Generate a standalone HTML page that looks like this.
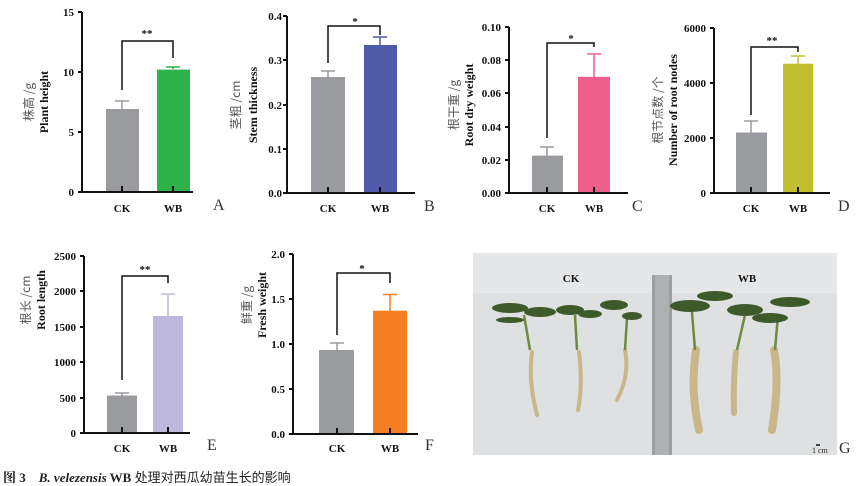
<!DOCTYPE html>
<html><head><meta charset="utf-8"><style>
body{margin:0;background:#fff}
svg{display:block}
text{font-family:"Liberation Serif","Noto Serif CJK SC",serif}
.t{font-size:11px;font-weight:bold;fill:#111}
.ax{stroke:#111;stroke-width:2;fill:none}
.br{stroke:#111;stroke-width:1.5;fill:none}
.yl{font-size:12px;font-weight:bold;fill:#111}
.cn{font-size:12px;fill:#555;font-family:"Noto Sans CJK SC",sans-serif}
.pl{font-size:16px;fill:#333}
</style></head><body>
<svg width="864" height="486" viewBox="0 0 864 486">
<!-- Panel A -->
<g>
<rect x="106" y="109" width="33" height="83" fill="#9a9b9f"/>
<rect x="157" y="69.6" width="33" height="122.4" fill="#2db34a"/>
<path d="M122 109V101M115 101H129" stroke="#9a9b9f" stroke-width="1.5"/>
<path d="M173 69V67M166 67H180" stroke="#2db34a" stroke-width="1.5"/>
<path class="br" d="M122 90V41H173V58"/>
<text x="147" y="37" class="t" text-anchor="middle" font-size="12">**</text>
<path class="ax" d="M82 12V192H193M78 12H82M78 72H82M78 132H82M78 192H82M122 192V186M173 192V186"/>
<g class="t" text-anchor="end"><text x="74" y="16">15</text><text x="74" y="76">10</text><text x="74" y="136">5</text><text x="74" y="196">0</text></g>
<text x="122" y="212" class="t" text-anchor="middle">CK</text><text x="173" y="212" class="t" text-anchor="middle">WB</text>
<text x="213" y="210" class="pl">A</text>
<g transform="translate(48,102) rotate(-90)"><text class="yl" text-anchor="middle" y="0">Plant  height</text><text class="cn" text-anchor="middle" y="-15">株高 /g</text></g>
</g>
<!-- Panel B -->
<g>
<rect x="311" y="77" width="34" height="116" fill="#9a9b9f"/>
<rect x="364" y="45" width="33" height="148" fill="#4f5aa8"/>
<path d="M328 77V71M321 71H335" stroke="#9a9b9f" stroke-width="1.5"/>
<path d="M380 45V37M373 37H387" stroke="#4f5aa8" stroke-width="1.5"/>
<path class="br" d="M328 63V26H380V35"/>
<text x="355" y="25" class="t" text-anchor="middle" font-size="12">*</text>
<path class="ax" d="M287 16V193H415M283 16H287M283 60H287M283 105H287M283 149H287M283 193H287M328 193V187M380 193V187"/>
<g class="t" text-anchor="end"><text x="282" y="20">0.4</text><text x="282" y="64">0.3</text><text x="282" y="109">0.2</text><text x="282" y="153">0.1</text><text x="282" y="197">0.0</text></g>
<text x="328" y="212" class="t" text-anchor="middle">CK</text><text x="380" y="212" class="t" text-anchor="middle">WB</text>
<text x="424" y="211" class="pl">B</text>
<g transform="translate(257,105) rotate(-90)"><text class="yl" text-anchor="middle" y="0">Stem thickness</text><text class="cn" text-anchor="middle" y="-17">茎粗 /cm</text></g>
</g>
<!-- Panel C -->
<g>
<rect x="532" y="155.6" width="31" height="37.4" fill="#9a9b9f"/>
<rect x="578" y="76.8" width="32" height="116.2" fill="#ee5f8e"/>
<path d="M547 156V147M540 147H554" stroke="#9a9b9f" stroke-width="1.5"/>
<path d="M594 77V54M587 54H601" stroke="#ee5f8e" stroke-width="1.5"/>
<path class="br" d="M547 138V43H594V47"/>
<text x="571" y="42" class="t" text-anchor="middle" font-size="12">*</text>
<path class="ax" d="M509 27V193H628M505 27H509M505 60H509M505 93H509M505 127H509M505 160H509M505 193H509M547 193V187M594 193V187"/>
<g class="t" text-anchor="end"><text x="501" y="31">0.10</text><text x="501" y="64">0.08</text><text x="501" y="97">0.06</text><text x="501" y="131">0.04</text><text x="501" y="164">0.02</text><text x="501" y="197">0.00</text></g>
<text x="547" y="212" class="t" text-anchor="middle">CK</text><text x="594" y="212" class="t" text-anchor="middle">WB</text>
<text x="632" y="211" class="pl">C</text>
<g transform="translate(473,105) rotate(-90)"><text class="yl" text-anchor="middle" y="0">Root dry weight</text><text class="cn" text-anchor="middle" y="-15">根干重 /g</text></g>
</g>
<!-- Panel D -->
<g>
<rect x="736" y="132.5" width="31" height="60.5" fill="#9a9b9f"/>
<rect x="783" y="63.7" width="30" height="129.3" fill="#c2bf2e"/>
<path d="M751 133V121M744 121H758" stroke="#9a9b9f" stroke-width="1.5"/>
<path d="M798 64V56M791 56H805" stroke="#c2bf2e" stroke-width="1.5"/>
<path class="br" d="M751 115V47H798V52"/>
<text x="772" y="44" class="t" text-anchor="middle" font-size="12">**</text>
<path class="ax" d="M714 28V193H830M710 28H714M710 83H714M710 138H714M710 193H714M751 193V187M798 193V187"/>
<g class="t" text-anchor="end"><text x="706" y="32">6000</text><text x="706" y="87">4000</text><text x="706" y="142">2000</text><text x="706" y="197">0</text></g>
<text x="751" y="212" class="t" text-anchor="middle">CK</text><text x="798" y="212" class="t" text-anchor="middle">WB</text>
<text x="838" y="211" class="pl">D</text>
<g transform="translate(677,110) rotate(-90)"><text class="yl" text-anchor="middle" y="0">Number of root nodes</text><text class="cn" text-anchor="middle" y="-15">根节点数 /个</text></g>
</g>
<!-- Panel E -->
<g>
<rect x="107" y="395.5" width="30" height="37.5" fill="#9a9b9f"/>
<rect x="153" y="316" width="30" height="117" fill="#bdb8dc"/>
<path d="M122 396V393M115 393H129" stroke="#9a9b9f" stroke-width="1.5"/>
<path d="M168 316V294M161 294H175" stroke="#bdb8dc" stroke-width="1.5"/>
<path class="br" d="M122 380V276H168V283"/>
<text x="145" y="273" class="t" text-anchor="middle" font-size="12">**</text>
<path class="ax" d="M84 256V433H190M80 256H84M80 291H84M80 327H84M80 362H84M80 398H84M80 433H84M122 433V427M168 433V427"/>
<g class="t" text-anchor="end"><text x="76" y="260">2500</text><text x="76" y="295">2000</text><text x="76" y="331">1500</text><text x="76" y="366">1000</text><text x="76" y="402">500</text><text x="76" y="437">0</text></g>
<text x="122" y="452" class="t" text-anchor="middle">CK</text><text x="168" y="452" class="t" text-anchor="middle">WB</text>
<text x="207" y="450" class="pl">E</text>
<g transform="translate(45,300) rotate(-90)"><text class="yl" text-anchor="middle" y="0">Root length</text><text class="cn" text-anchor="middle" y="-15">根长 /cm</text></g>
</g>
<!-- Panel F -->
<g>
<rect x="319" y="350" width="35" height="84" fill="#9a9b9f"/>
<rect x="373" y="310.7" width="34" height="123.3" fill="#f47f22"/>
<path d="M337 350V343M330 343H344" stroke="#9a9b9f" stroke-width="1.5"/>
<path d="M390 311V294.5M383 294.5H397" stroke="#f47f22" stroke-width="1.5"/>
<path class="br" d="M337 335V273H390V283"/>
<text x="362" y="272" class="t" text-anchor="middle" font-size="12">*</text>
<path class="ax" d="M293 254V434H418M289 254H293M289 299H293M289 344H293M289 389H293M289 434H293M337 434V428M390 434V428"/>
<g class="t" text-anchor="end"><text x="285" y="258">2.0</text><text x="285" y="303">1.5</text><text x="285" y="348">1.0</text><text x="285" y="393">0.5</text><text x="285" y="438">0.0</text></g>
<text x="337" y="452" class="t" text-anchor="middle">CK</text><text x="390" y="452" class="t" text-anchor="middle">WB</text>
<text x="425" y="450" class="pl">F</text>
<g transform="translate(266,305) rotate(-90)"><text class="yl" text-anchor="middle" y="0">Fresh weight</text><text class="cn" text-anchor="middle" y="-15">鲜重 /g</text></g>
</g>
<!-- Photo G -->
<g>
<rect x="473" y="253" width="364" height="202" fill="#dfe0e2"/>
<rect x="473" y="253" width="364" height="40" fill="#e6e7e8"/>
<rect x="652" y="275" width="20" height="180" fill="#9c9ea0"/>
<rect x="655" y="275" width="14" height="180" fill="#aeb0b2"/>
<text x="571" y="282" class="t" text-anchor="middle" font-size="12">CK</text>
<text x="747" y="282" class="t" text-anchor="middle" font-size="12">WB</text>
<g stroke="#c9b78a" stroke-width="4" fill="none" stroke-linecap="round">
<path d="M532 352Q528 380 537 415"/><path d="M579 352Q583 385 578 410"/><path d="M625 350Q630 375 617 400"/>
<path d="M696 350Q690 390 699 430" stroke-width="8"/><path d="M736 352Q733 380 734 413" stroke-width="6"/><path d="M774 350Q780 380 772 430" stroke-width="8"/>
</g>
<g stroke="#6e8a3a" stroke-width="2.5" fill="none"><path d="M530 350L524 315"/><path d="M577 350L575 315"/><path d="M625 350L627 318"/><path d="M695 350L692 312"/><path d="M737 350L745 315"/><path d="M775 350L778 315"/></g>
<g fill="#3f5a2a">
<ellipse cx="510" cy="308" rx="18" ry="5"/><ellipse cx="540" cy="312" rx="16" ry="5"/><ellipse cx="510" cy="320" rx="14" ry="3"/>
<ellipse cx="570" cy="310" rx="14" ry="5"/><ellipse cx="590" cy="314" rx="12" ry="4"/>
<ellipse cx="614" cy="305" rx="14" ry="5"/><ellipse cx="632" cy="316" rx="10" ry="4"/>
<ellipse cx="690" cy="306" rx="20" ry="6"/><ellipse cx="715" cy="296" rx="18" ry="5"/>
<ellipse cx="745" cy="310" rx="18" ry="6"/><ellipse cx="770" cy="318" rx="18" ry="5"/><ellipse cx="790" cy="302" rx="20" ry="5"/>
</g>
<text x="812" y="453" font-size="8" fill="#333">1 cm</text>
<path d="M816 445H820" stroke="#111" stroke-width="1.5"/>
<text x="839" y="453" class="pl">G</text>
</g>
<text x="3" y="482" font-size="13" font-weight="bold" fill="#222" font-family="'Liberation Serif','Noto Sans CJK SC',serif">图 3　<tspan font-style="italic">B. velezensis</tspan> WB <tspan font-weight="normal" font-family="'Noto Sans CJK SC',sans-serif">处理对西瓜幼苗生长的影响</tspan></text>
</svg>
</body></html>
